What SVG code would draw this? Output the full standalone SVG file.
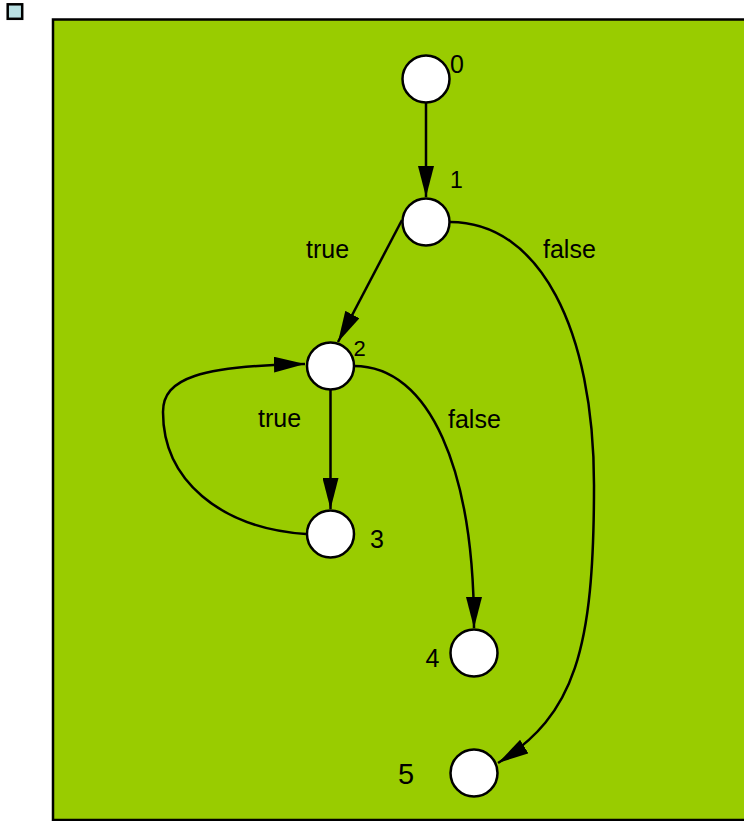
<svg xmlns="http://www.w3.org/2000/svg" width="744" height="821" viewBox="0 0 744 821">
<style>
.node{fill:#fff;stroke:#000;stroke-width:2.5}
.edge{fill:none;stroke:#000;stroke-width:2.5}
text{font-family:"Liberation Sans",Arial,sans-serif;fill:#000}
.lbl{font-size:25px}
</style>
<defs>
<marker id="arr" markerUnits="userSpaceOnUse" markerWidth="31" markerHeight="16" refX="31" refY="8" orient="auto" viewBox="0 0 31 16">
<path d="M0,0 L31,8 L0,16 z" fill="#000"/>
</marker>
</defs>
<rect x="0" y="0" width="744" height="821" fill="#fff"/>
<rect x="7.7" y="4.3" width="14.5" height="14.5" fill="#b9e0e3" stroke="#000" stroke-width="2.5"/>
<rect x="53" y="19.5" width="720" height="800.5" fill="#99cc00" stroke="#000" stroke-width="2.5"/>
<g id="connectors">
<path class="edge" d="M426,103 L426,197" marker-end="url(#arr)"/>
<path class="edge" d="M402,220 L338,342" marker-end="url(#arr)"/>
<path class="edge" d="M450,222 C540,222 594,330 594,485 C594,650 575,715 498,763" marker-end="url(#arr)"/>
<path class="edge" d="M330.5,390 L330.5,509" marker-end="url(#arr)"/>
<path class="edge" d="M354,366 C430,366 474,470 474,628" marker-end="url(#arr)"/>
<path class="edge" d="M306,534 C220,528 163,480 163,412 C163,378 200,366 305,364" marker-end="url(#arr)"/>
<text class="lbl" x="306" y="258">true</text>
<text class="lbl" x="543" y="258">false</text>
<text class="lbl" x="258" y="427">true</text>
<text class="lbl" x="448" y="428">false</text>
</g>
<g id="n0"><circle class="node" cx="426" cy="79" r="23.5"/><text x="450" y="73" font-size="25">0</text></g>
<g id="n1"><circle class="node" cx="426" cy="222" r="23.5"/><text x="450" y="188" font-size="23">1</text></g>
<g id="n2"><circle class="node" cx="330.5" cy="366" r="23.5"/><text x="353.5" y="356" font-size="22">2</text></g>
<g id="n3"><circle class="node" cx="330.5" cy="534" r="23.5"/><text x="370" y="548" font-size="25">3</text></g>
<g id="n4"><circle class="node" cx="474" cy="653" r="23.5"/><text x="425.5" y="667" font-size="25">4</text></g>
<g id="n5"><circle class="node" cx="474" cy="773" r="23.5"/><text x="398" y="784" font-size="29">5</text></g>
</svg>
